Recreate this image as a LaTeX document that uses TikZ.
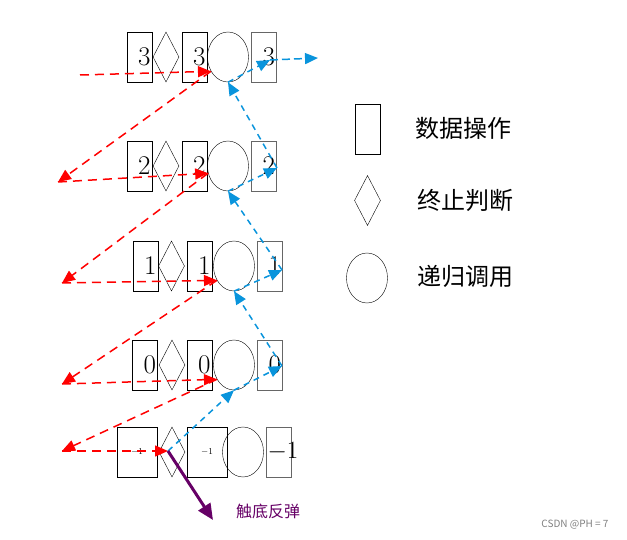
\documentclass[tikz,border=0pt]{standalone}
\usepackage{fontspec}
\newfontfamily\cjk{Noto Sans CJK SC}
\usetikzlibrary{shapes.geometric,arrows.meta}
\tikzset{dat/.style={rectangle, draw, inner sep=0pt, minimum width=25pt, minimum height=50pt, font=\fontsize{27}{27}\selectfont, align=right, text width=22pt},
  datg/.style={dat, draw=black!60},
  judge/.style={diamond, draw, inner sep=0pt, minimum width=26pt, minimum height=50pt},
  call/.style={ellipse, draw, inner sep=0pt, minimum width=41pt, minimum height=50pt},
  red line/.style={draw=red, line width=1.5pt, dash pattern=on 9pt off 6pt, -{Triangle[width=11pt,length=13pt]}},
  blue line/.style={draw=cyan!80!blue, line width=1.5pt, dash pattern=on 6pt off 5pt, -{Triangle[width=11pt,length=13pt]}},
  legend/.style={font=\cjk\fontsize{24}{24}\selectfont, anchor=west}}
\begin{document}
\begin{tikzpicture}[x=1pt, y=-1pt]
\useasboundingbox (0,0) rectangle (627,540);

% rows
\node [dat] (a3) at (139.5,57){3};
\node [judge] (d3) at (166,57){};
\node [dat] (b3) at (194.5,57){3};
\node [call] (c3) at (228,57){};
\node [datg] (e3) at (264,57){3};

\node [dat] (a2) at (139.5,166){2};
\node [judge] (d2) at (166,166){};
\node [dat] (b2) at (194.5,166){2};
\node [call] (c2) at (228,166){};
\node [datg] (e2) at (264,166){2};

\node [dat] (a1) at (145.5,266){1};
\node [judge] (d1) at (171.5,266){};
\node [dat] (b1) at (199.5,266){1};
\node [call] (c1) at (234,266){};
\node [datg] (e1) at (270,266){1};

\node [dat] (a0) at (145,365){0};
\node [judge] (d0) at (172,365){};
\node [dat] (b0) at (199.5,365){0};
\node [call] (c0) at (234,365){};
\node [datg] (e0) at (270,365){0};

\node [dat, minimum width=40pt, text width=40pt, align=center, font=\small] (am) at (137,452){$-1$};
\node [judge] (dm) at (172,452){};
\node [dat, minimum width=40pt, text width=40pt, align=center, font=\small] (bm) at (207,452){$-1$};
\node [call] (cm) at (243,452){};
\node [datg] (em) at (278.5,452){$-1$};

% red path downwards
\coordinate (r3) at (80,75);
\coordinate (l2) at (58,182);
\coordinate (l1) at (62,283);
\coordinate (l0) at (62,384);
\coordinate (lm) at (62,451);
\coordinate (hit) at (168,451);
\path [red line] (r3) -- (c3.220);
\path [red line] (c3.220) -- (l2);
\path [red line] (l2) -- (c2.200);
\path [red line] (c2.200) -- (l1);
\path [red line] (l1) -- (c1.220);
\path [red line] (c1.220) -- (l0);
\path [red line] (l0) -- (c0.220);
\path [red line] (c0.220) -- (lm);
\path [red line] (lm) -- (hit);

% blue path upwards
\coordinate (q0) at (282,366);
\coordinate (q1) at (282,270);
\coordinate (q2) at (277,168);
\coordinate (q3) at (270,60);
\coordinate (out) at (318,58);
\path [blue line] (hit) -- (c0.south);
\path [blue line] (c0.south) -- (q0);
\path [blue line] (q0) -- (c1.south);
\path [blue line] (c1.south) -- (q1);
\path [blue line] (q1) -- (c2.south);
\path [blue line] (c2.south) -- (q2);
\path [blue line] (q2) -- (c3.south);
\path [blue line] (c3.south) -- (q3);
\path [blue line, dash pattern=on 8pt off 4pt] (q3) -- (out);

% bounce
\node [font=\cjk\fontsize{16}{16}\selectfont, text=violet!80!black] (bounce) at (268,511){触底反弹};
\coordinate (tip) at (213,520);
\draw [violet!80!black, line width=3pt, -{Triangle[width=14pt,length=16pt]}] (hit) -- (tip);

% legend
\node [dat] (kd) at (367.5,129){};
\node [judge] (kj) at (367.5,200.5){};
\node [call] (kc) at (367,278){};
\node [legend] (td) at (412,128){数据操作};
\node [legend] (tj) at (414,200){终止判断};
\node [legend] (tc) at (414,276){递归调用};

\node [font=\cjk\fontsize{10}{10}\selectfont, text=black!50] (mark) at (575,525){CSDN @PH = 7};
\end{tikzpicture}
\end{document}
